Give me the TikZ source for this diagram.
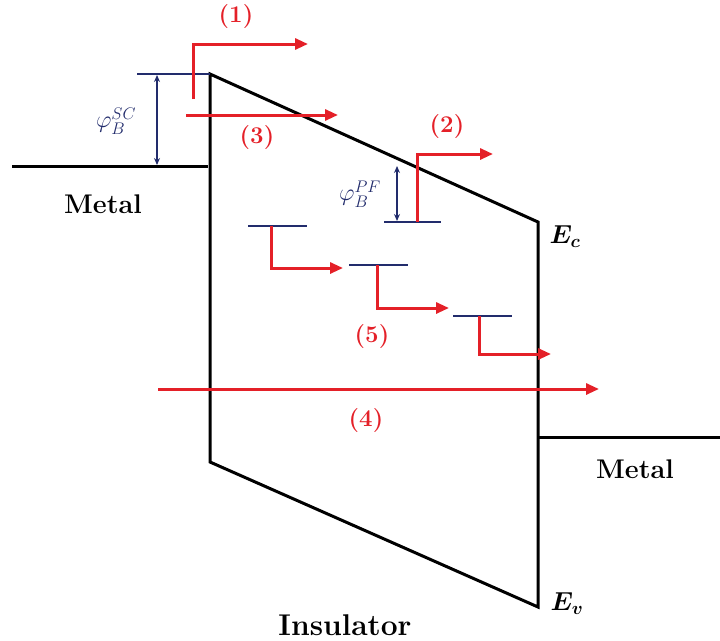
\RequirePackage{fix-cm}
\documentclass[tikz,border=0pt]{standalone}
\usepackage{amsmath}
\usepackage{amssymb}
\usepackage{bm}
\usepackage{tikz}
\usetikzlibrary{arrows.meta, positioning, calc}

\definecolor{pathred}{RGB}{228,32,40}
\definecolor{levelblue}{RGB}{34,44,108}

\tikzset{
  band/.style={line width=3pt, black},
  level/.style={line width=2pt, levelblue},
  barrier/.style={{Stealth[length=7pt,width=6pt]}-{Stealth[length=7pt,width=6pt]}, line width=1.6pt, levelblue},
  flow/.style={-{Triangle[length=13pt,width=11pt]}, line width=3pt, pathred},
  flowlabel/.style={font=\fontsize{24}{28}\selectfont\bfseries, text=pathred},
  barrierlabel/.style={font=\fontsize{24}{28}\selectfont, text=levelblue},
  regionlabel/.style={font=\fontsize{27}{30}\selectfont\bfseries},
  bandlabel/.style={font=\fontsize{26}{30}\selectfont}
}

\begin{document}
\begin{tikzpicture}[x=1pt, y=-1pt, >=Stealth]
\useasboundingbox (0,0) rectangle (720,640);

% =============== BANDS ===============
\coordinate (ctopL) at (210,74);
\coordinate (ctopR) at (538,222);
\coordinate (vbotR) at (538,607);
\coordinate (vbotL) at (210,462);
\draw[band, line join=miter] (ctopR) -- (ctopL) -- (vbotL) -- (vbotR) -- cycle;
% metal Fermi levels
\coordinate (mL1) at (12,166);
\coordinate (mL2) at (208,166);
\coordinate (mR1) at (538,437);
\coordinate (mR2) at (720,437);
\draw[band] (mL1) -- (mL2);
\draw[band] (mR1) -- (mR2);

\node[regionlabel] (metalL) at (103,204) {Metal};
\node[regionlabel] (metalR) at (635,469) {Metal};
\node[regionlabel, font=\fontsize{30}{34}\selectfont\bfseries] (insul) at (345,625) {Insulator};
\node[bandlabel] (ec) at (565,237) {$\bm{E_c}$};
\node[bandlabel] (ev) at (567,604) {$\bm{E_v}$};

% =============== BARRIERS ===============
\coordinate (scL) at (137,74);
\draw[level] (scL) -- (ctopL);
\coordinate (scT) at (157,75);
\coordinate (scB) at (157,165);
\draw[barrier] (scT) -- (scB);
\node[barrierlabel] (phisc) at (116,121) {$\varphi_B^{SC}$};

\coordinate (pfL) at (384,222);
\coordinate (pfR) at (441,222);
\draw[level] (pfL) -- (pfR);
\coordinate (pfT) at (397,166);
\coordinate (pfB) at (397,221);
\draw[barrier] (pfT) -- (pfB);
\node[barrierlabel] (phipf) at (360,194) {$\varphi_B^{PF}$};

% trap levels
\draw[level] (248,226) -- (307,226);
\draw[level] (349,265) -- (408,265);
\draw[level] (453,316) -- (512,316);

% =============== CONDUCTION PATHS ===============
% (1) thermionic over the barrier
\coordinate (p1a) at (193,99);
\coordinate (p1b) at (308,44);
\draw[flow] (p1a) |- (p1b);
\node[flowlabel] (l1) at (236,17) {(1)};
% (3) tunnelling through the barrier tip
\coordinate (p3a) at (186,115);
\coordinate (p3b) at (338,115);
\draw[flow] (p3a) -- (p3b);
\node[flowlabel] (l3) at (257,138) {(3)};
% (2) Poole-Frenkel emission
\coordinate (p2a) at (417,222);
\coordinate (p2b) at (493,154);
\draw[flow] (p2a) |- (p2b);
\node[flowlabel] (l2) at (447,127) {(2)};
% (5) hopping between traps
\draw[flow] (271,226) |- (343,268);
\draw[flow] (377,265) |- (449,308);
\draw[flow] (479,316) |- (551,354);
\node[flowlabel] (l5) at (372,337) {(5)};
% (4) direct tunnelling
\coordinate (p4a) at (158,389);
\coordinate (p4b) at (599,389);
\draw[flow] (p4a) -- (p4b);
\node[flowlabel] (l4) at (366,421) {(4)};

\end{tikzpicture}
\end{document}
